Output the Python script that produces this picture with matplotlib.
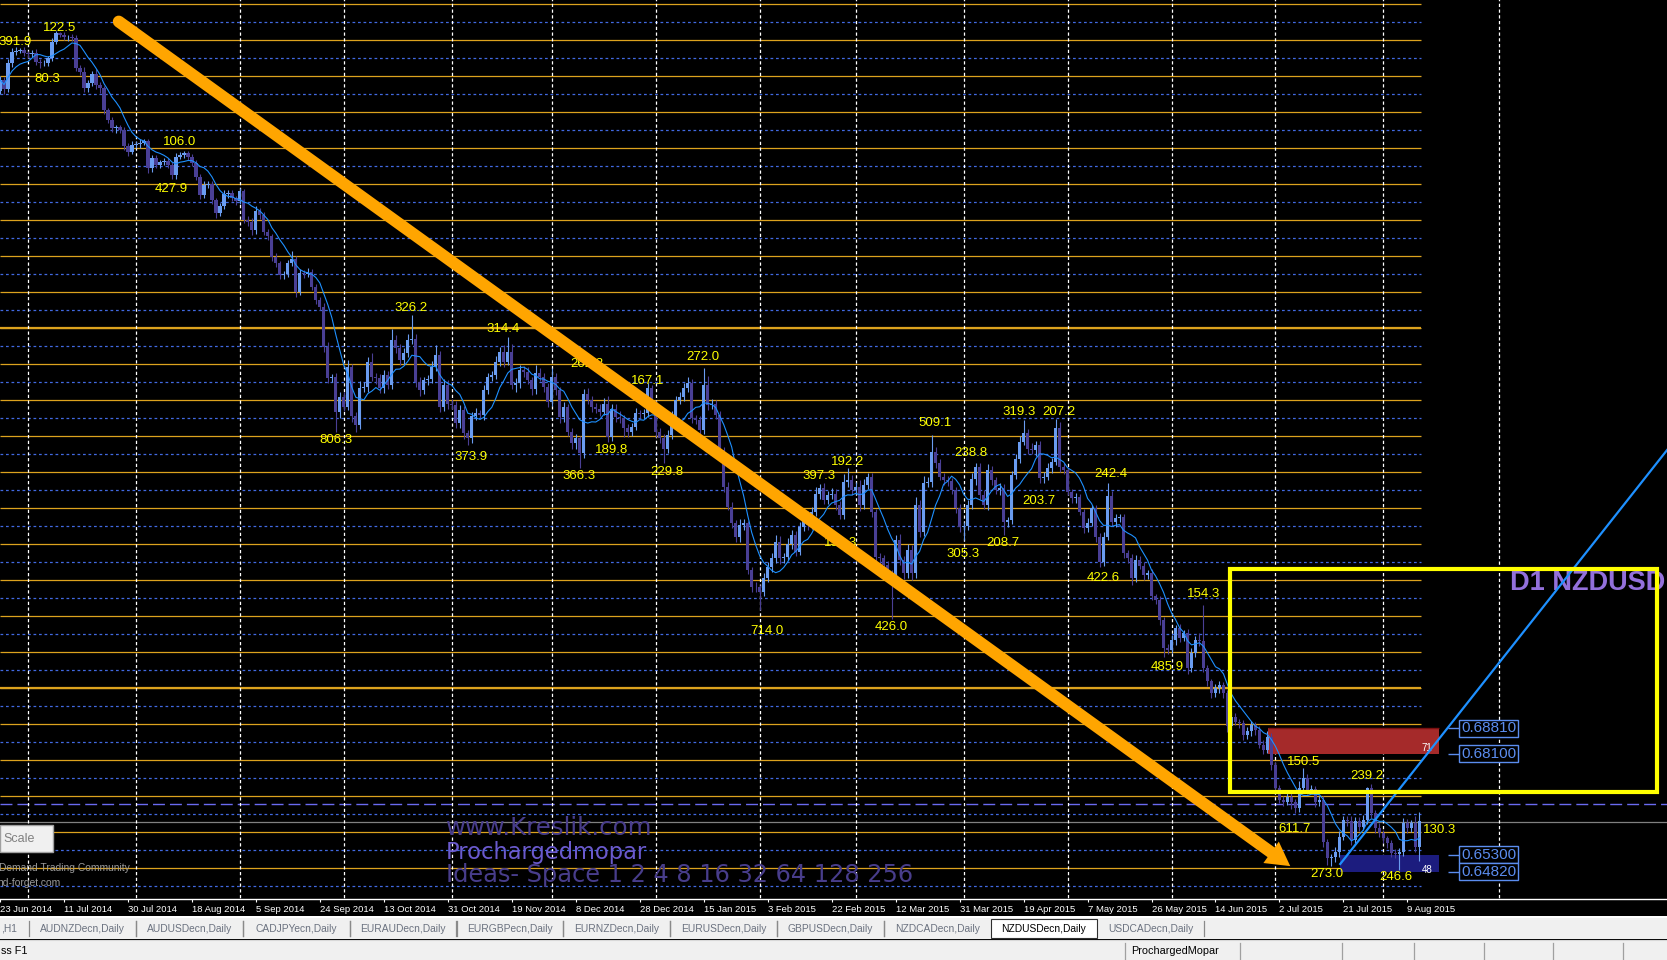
import numpy as np
import pandas as pd
import matplotlib
matplotlib.use("Agg")
import matplotlib.pyplot as plt
from matplotlib.patches import Rectangle, FancyArrowPatch
from matplotlib.lines import Line2D
from matplotlib.transforms import Affine2D

plt.rcParams['font.family'] = ['Liberation Sans', 'DejaVu Sans']

W, H = 1667, 960

# NZDUSD daily closes x 10000, one bar per day from 23 Jun 2014 (broker keeps Sunday bars)
close_pips = [
    8682, 8656, 8728, 8760, 8763, 8765, 8756, 8754, 8758, 8733,
    8728, 8730, 8742, 8788, 8811, 8807, 8800, 8802, 8797, 8714,
    8705, 8659, 8674, 8698, 8668, 8659, 8598, 8571, 8547, 8550,
    8543, 8497, 8483, 8501, 8504, 8508, 8511, 8436, 8464, 8446,
    8453, 8458, 8446, 8418, 8469, 8473, 8478, 8469, 8450, 8413,
    8362, 8390, 8393, 8348, 8311, 8332, 8365, 8367, 8353, 8346,
    8372, 8293, 8288, 8265, 8319, 8307, 8260, 8247, 8191, 8172,
    8140, 8143, 8173, 8184, 8094, 8145, 8142, 8147, 8108, 8071,
    8052, 7941, 7853, 7858, 7760, 7802, 7774, 7885, 7747, 7723,
    7825, 7830, 7899, 7857, 7853, 7825, 7862, 7834, 7959, 7936,
    7904, 7922, 7959, 7961, 7844, 7821, 7848, 7850, 7885, 7918,
    7774, 7834, 7783, 7779, 7728, 7765, 7700, 7686, 7748, 7756,
    7751, 7820, 7857, 7862, 7899, 7927, 7899, 7927, 7834, 7839,
    7876, 7871, 7848, 7822, 7867, 7856, 7830, 7788, 7856, 7820,
    7746, 7774, 7705, 7672, 7686, 7645, 7809, 7793, 7774, 7769,
    7760, 7783, 7691, 7769, 7746, 7742, 7714, 7705, 7719, 7756,
    7754, 7757, 7825, 7783, 7705, 7686, 7658, 7695, 7746, 7793,
    7802, 7825, 7839, 7742, 7737, 7709, 7834, 7779, 7783, 7751,
    7654, 7552, 7496, 7450, 7413, 7445, 7450, 7320, 7274, 7272,
    7260, 7297, 7330, 7353, 7399, 7353, 7357, 7394, 7417, 7371,
    7441, 7468, 7445, 7482, 7533, 7547, 7515, 7529, 7533, 7501,
    7473, 7566, 7570, 7542, 7552, 7501, 7556, 7579, 7482, 7357,
    7353, 7334, 7311, 7302, 7404, 7348, 7311, 7376, 7311, 7501,
    7427, 7561, 7564, 7649, 7617, 7580, 7570, 7567, 7542, 7492,
    7441, 7444, 7501, 7572, 7607, 7529, 7501, 7598, 7570, 7542,
    7547, 7454, 7459, 7584, 7630, 7677, 7700, 7658, 7654, 7668,
    7575, 7580, 7603, 7621, 7714, 7607, 7598, 7538, 7520, 7522,
    7483, 7437, 7452, 7492, 7413, 7344, 7413, 7525, 7455, 7464,
    7467, 7367, 7353, 7298, 7349, 7332, 7307, 7312, 7247, 7237,
    7182, 7103, 7099, 7126, 7159, 7132, 7145, 7048, 7089, 7126,
    7122, 7048, 7011, 6978, 6992, 7001, 6978, 6886, 6913, 6899,
    6895, 6862, 6872, 6890, 6876, 6835, 6821, 6858, 6779, 6714,
    6682, 6677, 6691, 6677, 6659, 6714, 6742, 6710, 6712, 6677,
    6682, 6566, 6520, 6522, 6537, 6580, 6626, 6622, 6571, 6622,
    6608, 6626, 6714, 6645, 6603, 6589, 6575, 6561, 6534, 6532,
    6538, 6617, 6603, 6617, 6552, 6622,
]
first_open = 8652

# wick lengths in pips above / below the candle body
wick_up = [
    10, 8, 12, 10, 9, 6, 8, 7, 6, 9,
    8, 7, 6, 10, 8, 5, 9, 6, 7, 10,
    8, 12, 9, 10, 14, 8, 6, 7, 8, 6,
    7, 8, 10, 12, 8, 9, 7, 8, 10, 9,
    6, 8, 7, 9, 10, 8, 7, 6, 8, 9,
    7, 10, 9, 8, 7, 9, 12, 8, 8, 7,
    10, 8, 12, 9, 14, 8, 7, 9, 8, 10,
    7, 8, 10, 22, 9, 11, 10, 12, 10, 8,
    9, 10, 12, 8, 10, 12, 14, 18, 9, 12,
    20, 14, 12, 25, 10, 12, 14, 10, 30, 15,
    12, 14, 18, 68, 14, 12, 10, 12, 15, 28,
    10, 16, 14, 12, 10, 14, 12, 10, 12, 15,
    10, 14, 12, 10, 16, 12, 18, 42, 20, 14,
    15, 12, 14, 10, 22, 14, 12, 10, 25, 12,
    10, 12, 8, 10, 12, 8, 14, 16, 12, 10,
    12, 14, 20, 14, 12, 16, 10, 12, 10, 14,
    10, 12, 15, 10, 8, 10, 12, 14, 16, 10,
    12, 14, 18, 12, 10, 12, 49, 25, 12, 10,
    10, 8, 12, 14, 10, 16, 12, 8, 10, 12,
    8, 14, 12, 16, 18, 15, 12, 16, 14, 12,
    14, 12, 16, 14, 18, 12, 14, 12, 16, 12,
    10, 20, 33, 14, 12, 18, 16, 12, 10, 8,
    10, 8, 12, 10, 14, 16, 12, 18, 14, 22,
    14, 20, 16, 46, 14, 12, 10, 12, 8, 10,
    12, 10, 14, 18, 10, 12, 14, 16, 12, 10,
    14, 12, 10, 12, 14, 16, 37, 12, 14, 10,
    10, 12, 14, 12, 25, 18, 12, 10, 8, 12,
    10, 8, 12, 10, 8, 10, 12, 37, 14, 12,
    10, 8, 10, 12, 14, 10, 12, 8, 10, 8,
    10, 8, 12, 14, 10, 12, 10, 12, 14, 10,
    20, 101, 10, 8, 12, 10, 8, 10, 12, 10,
    8, 10, 12, 10, 8, 10, 12, 14, 10, 8,
    8, 10, 12, 10, 8, 20, 28, 12, 10, 8,
    10, 12, 8, 10, 14, 16, 12, 10, 14, 12,
    12, 14, 5, 12, 10, 14, 10, 8, 10, 12,
    10, 14, 12, 10, 20, 27,
]
wick_dn = [
    10, 12, 8, 10, 8, 6, 9, 10, 8, 10,
    12, 8, 10, 8, 6, 7, 8, 9, 6, 8,
    10, 10, 12, 8, 10, 14, 10, 8, 10, 12,
    8, 10, 12, 8, 9, 10, 8, 12, 10, 8,
    10, 8, 9, 12, 10, 8, 7, 9, 8, 10,
    12, 8, 9, 10, 14, 8, 9, 10, 8, 12,
    10, 9, 12, 14, 10, 12, 9, 10, 12, 10,
    12, 10, 9, 8, 14, 10, 9, 8, 10, 12,
    10, 14, 12, 10, 55, 16, 12, 10, 14, 18,
    12, 10, 14, 12, 16, 12, 14, 12, 10, 12,
    14, 12, 10, 12, 14, 16, 12, 14, 10, 12,
    14, 12, 16, 10, 14, 12, 16, 18, 12, 10,
    12, 14, 10, 12, 10, 12, 14, 10, 12, 18,
    12, 14, 10, 16, 12, 10, 14, 16, 12, 14,
    16, 14, 12, 16, 14, 42, 12, 10, 14, 12,
    12, 10, 16, 12, 14, 12, 23, 15, 12, 10,
    12, 10, 12, 14, 16, 12, 41, 12, 10, 12,
    10, 12, 10, 14, 12, 16, 12, 14, 10, 12,
    12, 14, 10, 12, 16, 14, 12, 10, 14, 12,
    51, 12, 10, 14, 12, 16, 12, 10, 14, 12,
    10, 12, 14, 10, 12, 14, 10, 12, 10, 14,
    12, 10, 14, 12, 10, 16, 12, 10, 14, 12,
    16, 14, 12, 118, 12, 14, 16, 12, 18, 14,
    16, 12, 10, 14, 12, 10, 14, 12, 10, 14,
    16, 37, 12, 10, 14, 12, 10, 14, 12, 10,
    12, 36, 14, 12, 10, 12, 10, 14, 12, 16,
    12, 14, 10, 12, 10, 14, 12, 10, 14, 12,
    10, 14, 12, 10, 16, 14, 12, 10, 12, 14,
    10, 12, 14, 20, 12, 10, 14, 12, 10, 12,
    14, 23, 12, 10, 14, 12, 10, 16, 12, 10,
    12, 10, 14, 12, 10, 12, 14, 16, 12, 10,
    12, 14, 10, 12, 14, 10, 12, 10, 14, 12,
    10, 12, 10, 20, 14, 12, 10, 12, 10, 14,
    12, 14, 18, 23, 12, 14, 10, 12, 14, 10,
    12, 10, 12, 14, 12, 10, 14, 12, 10, 12,
    45, 12, 14, 10, 16, 40,
]

# zigzag swing labels: text, bar index, price
swing_text = ['391.9', '122.5', '80.3', '106.0', '427.9', '806.3', '326.2', '314.4',
              '373.9', '262.8', '167.1', '189.8', '366.3', '229.8', '272.0', '714.0',
              '397.3', '192.2', '152.3', '426.0', '509.1', '238.8', '305.3', '208.7',
              '203.7', '319.3', '207.2', '242.4', '422.6', '154.3', '485.9', '150.5',
              '239.2', '611.7', '273.0', '246.6', '130.3']
swing_bar = [-3.2, 7.9, 4.9, 37.9, 35.9, 76.9, 95.9, 118.9, 110.9, 139.9, 154.9, 145.9,
             137.9, 159.9, 168.9, 184.9, 197.9, 205.0, 203.2, 215.9, 226.8, 235.9, 233.9,
             243.9, 252.8, 247.9, 257.9, 270.9, 268.9, 294.0, 284.9, 319.0, 334.9, 316.9,
             324.9, 342.0, 353.0]
swing_price = [0.8787, 0.8826, 0.8684, 0.8510, 0.8379, 0.7682, 0.8048, 0.7989, 0.7635,
               0.7893, 0.7846, 0.7654, 0.7583, 0.7594, 0.7911, 0.7152, 0.7583, 0.7621,
               0.7396, 0.7161, 0.7728, 0.7645, 0.7365, 0.7395, 0.7513, 0.7759, 0.7759,
               0.7587, 0.7297, 0.7254, 0.7052, 0.6786, 0.6748, 0.6600, 0.6476, 0.6469,
               0.6598]

date_labels = ['23 Jun 2014', '11 Jul 2014', '30 Jul 2014', '18 Aug 2014', '5 Sep 2014',
               '24 Sep 2014', '13 Oct 2014', '31 Oct 2014', '19 Nov 2014', '8 Dec 2014',
               '28 Dec 2014', '15 Jan 2015', '3 Feb 2015', '22 Feb 2015', '12 Mar 2015',
               '31 Mar 2015', '19 Apr 2015', '7 May 2015', '26 May 2015', '14 Jun 2015',
               '2 Jul 2015', '21 Jul 2015', '9 Aug 2015']
month_start_bars = [0, 27, 53, 79, 106, 131, 157, 183, 207, 234, 260, 286, 312, 339, 368]

orange_levels = np.round(0.8892 - 0.01 * np.arange(25), 4)
blue_levels = np.round(0.8842 - 0.01 * np.arange(25), 4)
thick_levels = [0.7992, 0.6992]
levels_end_bar = 348.3
bid_price = 0.6621
dash_level = 0.6670

supply_zone = [310.25, 352.9, 0.6810, 0.6881]
demand_zone = [328.2, 352.9, 0.6482, 0.6530]
zone_prices = [0.6881, 0.6810, 0.6530, 0.6482]
zone_labels = ['0.68810', '0.68100', '0.65300', '0.64820']

arrow_start = (22.7, 0.8844)
arrow_end = (315.7, 0.6498)
trend_a = (328.2, 0.6504)
trend_b = (388.2, 0.7348)
yellow_box = [300.7, 407.5, 0.6703, 0.7323]

tab_names = ['AUDNZDecn,Daily', 'AUDUSDecn,Daily', 'CADJPYecn,Daily', 'EURAUDecn,Daily',
             'EURGBPecn,Daily', 'EURNZDecn,Daily', 'EURUSDecn,Daily', 'GBPUSDecn,Daily',
             'NZDCADecn,Daily', 'NZDUSDecn,Daily', 'USDCADecn,Daily']
active_tab = 'NZDUSDecn,Daily'

# ---- prepare candles
close = np.array(close_pips) / 1e4
opn = np.r_[first_open, close_pips[:-1]] / 1e4
high = np.maximum(opn, close) + np.array(wick_up) / 1e4
low = np.minimum(opn, close) - np.array(wick_dn) / 1e4
bars = np.arange(len(close)) - 7
ma = pd.Series(close).rolling(8, min_periods=1).mean()

BULL, BEAR = '#6a9cf0', '#4a3f95'
ORANGE_LVL, BLUE_LVL = '#dca21e', '#4169e1'

fig = plt.figure(figsize=(W / 100, H / 100), dpi=100, facecolor='black')
ax = fig.add_axes([0, 61 / H, 1, 899 / H])
ax.set_facecolor('black')
ax.set_xlim(-6.825, 409.925)
ax.set_ylim(0.64067, 0.89039)
px = Affine2D().scale(1, -1).translate(0, H)  # pixel coords, origin top-left

# level lines
ax.hlines(orange_levels, -7, levels_end_bar, colors=ORANGE_LVL, lw=0.9, zorder=1)
ax.hlines(thick_levels, -7, levels_end_bar, colors=ORANGE_LVL, lw=1.6, zorder=1)
ax.hlines(blue_levels, -7, levels_end_bar, colors=BLUE_LVL, lw=0.9,
          linestyles=(0, (2.2, 2.2)), zorder=1)
ax.axhline(dash_level, color='#6a6af0', lw=1, dashes=(8.6, 3.6), zorder=1)
ax.axhline(bid_price, color='#808080', lw=0.9, zorder=1)
ax.vlines(month_start_bars, 0.6, 0.9, colors='white', lw=0.9,
          linestyles=(0, (2.6, 2.0)), zorder=1.5)

# zones
for zone, col in [(supply_zone, '#a52a2a'), (demand_zone, '#1c1c7e')]:
    ax.add_patch(Rectangle((zone[0], zone[2]), zone[1] - zone[0], zone[3] - zone[2],
                           fc=col, ec='none', zorder=2))
ax.hlines(supply_zone[3], supply_zone[0], supply_zone[1], colors='#7a1010', lw=1, zorder=2.1)
ax.text(349.9, 0.6825, '71', color='white', fontsize=7, ha='center', va='center', zorder=2.2)
ax.text(349.9, 0.6487, '48', color='white', fontsize=7, ha='center', va='center', zorder=2.2)

# candles
bull = close >= opn
cols = np.where(bull, BULL, BEAR)
ax.vlines(bars, low, high, colors=cols, lw=0.8, zorder=3)
body = np.maximum(np.abs(close - opn), 0.00004)
ax.bar(bars, body, bottom=np.minimum(opn, close), width=0.8, color=cols, lw=0, zorder=3.1)
ax.plot(bars, ma, color='#1e90ff', lw=0.8, zorder=4)

for s, b, p in zip(swing_text, swing_bar, swing_price):
    ax.text(b, p, s, color='#ffff00', fontsize=9.5, ha='center', va='center', zorder=5)

# D1 label and trend ray
ax.text(1510, 583, 'D1 NZDUSD', transform=px, fontsize=19.5, fontweight='bold',
        color='#9370db', ha='left', va='center', zorder=5.5)
slope = (trend_b[1] - trend_a[1]) / (trend_b[0] - trend_a[0])
x_end = 412
ax.plot([trend_a[0], x_end], [trend_a[1], trend_a[1] + slope * (x_end - trend_a[0])],
        color='#1e90ff', lw=1.6, zorder=6)
ax.add_patch(Rectangle((yellow_box[0], yellow_box[2]), yellow_box[1] - yellow_box[0],
                       yellow_box[3] - yellow_box[2], fill=False, ec='#ffff00', lw=3, zorder=6))

# orange arrow
p0 = ax.transData.transform(arrow_start)
p1 = ax.transData.transform(arrow_end)
u = (p1 - p0) / np.hypot(*(p1 - p0))
inv = ax.transData.inverted()
shaft_end = inv.transform(p1 - u * 20)
head_base = inv.transform(p1 - u * 24)
ax.plot([arrow_start[0], shaft_end[0]], [arrow_start[1], shaft_end[1]], color='#ffa500',
        lw=8.6, solid_capstyle='round', zorder=7)
ax.add_patch(FancyArrowPatch(head_base, arrow_end, arrowstyle='-|>,head_length=17,head_width=9.5',
                             mutation_scale=1, lw=0, color='#ffa500', shrinkA=0, shrinkB=0,
                             zorder=7))

# price tags of the zones
ax.hlines(zone_prices, 355.2, 357.9, colors='#5b8def', lw=1, zorder=8)
for p, s in zip(zone_prices, zone_labels):
    ax.text(365.3, p, s, color='#5b8def', fontsize=11, ha='center', va='center', zorder=8,
            bbox=dict(boxstyle='square,pad=0.1', fc='black', ec='#5b8def', lw=1))

# watermark texts
ax.text(446, 835, 'www.Kreslik.com', transform=px, fontsize=17.6, family='DejaVu Sans',
        color='#483d8b', ha='left', va='baseline', zorder=5)
ax.text(446, 859, 'Prochargedmopar', transform=px, fontsize=16.3, family='DejaVu Sans',
        color='#6a5acd', ha='left', va='baseline', zorder=5)
ax.text(446, 882, 'Ideas- Space 1 2 4 8 16 32 64 128 256', transform=px, fontsize=17.3,
        family='DejaVu Sans', color='#483d8b', ha='left', va='baseline', zorder=5)

# scale button and community texts
ax.add_patch(Rectangle((0, 825), 53, 27, transform=px, fc='#f0f0f0', ec='#a0a0a0', lw=1,
                       zorder=9, clip_on=False))
ax.text(19.5, 838.5, 'Scale', transform=px, fontsize=9, color='#808080', ha='center',
        va='center', zorder=9.1)
ax.text(130, 868, 'Demand Trading Community', transform=px, fontsize=7.4, color='#9a9a9a',
        ha='right', va='center', zorder=9)
ax.text(61, 882.5, 'nd-forget.com', transform=px, fontsize=7.4, color='#9a9a9a',
        ha='right', va='center', zorder=9)

# date axis
ax.set_yticks([])
ax.set_xticks(np.arange(len(date_labels)) * 16 - 7)
ax.set_xticklabels(date_labels)
ax.tick_params(axis='x', length=2.5, width=0.8, color='white', pad=1.5, labelsize=6.8,
               labelcolor='white')
for lab in ax.get_xticklabels():
    lab.set_ha('left')
for side in ['top', 'left', 'right']:
    ax.spines[side].set_visible(False)
ax.spines['bottom'].set_color('white')
ax.spines['bottom'].set_linewidth(1)

# tab bar and status bar
fig.add_artist(Rectangle((0, 916), W, 1.5, transform=px, fc='white', lw=0))
fig.add_artist(Rectangle((0, 917.5), W, 21.5, transform=px, fc='#f0f0f0', lw=0))
fig.add_artist(Rectangle((0, 940), W, 20, transform=px, fc='#f0f0f0', lw=0))
fig.add_artist(Line2D([0, W], [939.5, 939.5], transform=px, color='#d8d8d8', lw=0.8))
fig.text(1, 928.5, ',H1', transform=px, fontsize=7.4, color='#6b7280', ha='left', va='center')
active_x = 82.7 + 106.8 * tab_names.index(active_tab)
for i, name in enumerate(tab_names):
    cx = 82.7 + 106.8 * i
    if name == active_tab:
        fig.add_artist(Rectangle((cx - 53, 918.5), 106, 19.5, transform=px, fc='white',
                                 ec='#303030', lw=0.8))
        fig.text(cx, 928.5, name, transform=px, fontsize=7.4, color='black', ha='center',
                 va='center')
        continue
    fig.text(cx, 928.5, name, transform=px, fontsize=7.4, color='#6b7280', ha='center',
             va='center')
    for sx in (cx - 53.4, cx + 53.4):
        if abs(sx - active_x) > 60:
            fig.add_artist(Line2D([sx, sx], [921, 936], transform=px, color='#8a8a8a', lw=0.9))

fig.text(1, 950.5, 'ss F1', transform=px, fontsize=7.8, color='black', ha='left', va='center')
fig.text(1130.7, 950.5, 'ProchargedMopar', transform=px, fontsize=7.8, color='black',
         ha='left', va='center')
for sx in [1124.6, 1240.3, 1342.3, 1413.9, 1484.4, 1552.8, 1623.3]:
    fig.add_artist(Line2D([sx, sx], [943, 960], transform=px, color='#a0a0a0', lw=0.9))

fig.savefig('out.png', dpi=100, facecolor='black')
